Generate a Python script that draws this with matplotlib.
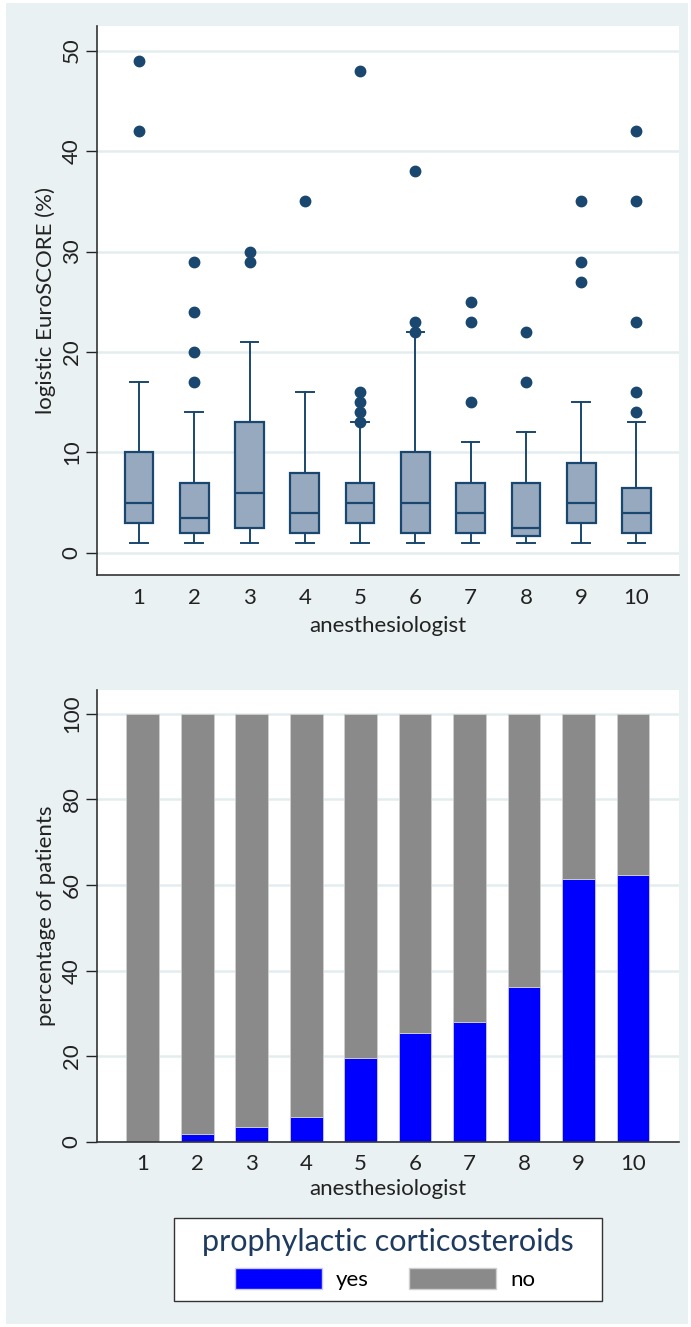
import matplotlib
matplotlib.use("Agg")
import matplotlib.pyplot as plt
from matplotlib.patches import Rectangle, Patch

plt.rcParams['font.family'] = ['Lato', 'DejaVu Sans']

# ---- data ----
anesthesiologists = [1, 2, 3, 4, 5, 6, 7, 8, 9, 10]

# logistic EuroSCORE box statistics per anesthesiologist
q1 = [3, 2, 2.5, 2, 3, 2, 2, 1.7, 3, 2]
median = [5, 3.5, 6, 4, 5, 5, 4, 2.5, 5, 4]
q3 = [10, 7, 13, 8, 7, 10, 7, 7, 9, 6.5]
whisker_low = [1, 1, 1, 1, 1, 1, 1, 1, 1, 1]
whisker_high = [17, 14, 21, 16, 13, 22, 11, 12, 15, 13]
outliers = [
    [42, 49],
    [17, 20, 24, 29],
    [29, 30],
    [35],
    [13, 14, 15, 16, 48],
    [22, 23, 38],
    [15, 23, 25],
    [17, 22],
    [27, 29, 35],
    [14, 16, 23, 35, 42],
]

# percentage of patients receiving prophylactic corticosteroids
pct_yes = [0, 1.8, 3.4, 5.8, 19.6, 25.4, 27.9, 36.2, 61.3, 62.3]
pct_no = [100 - v for v in pct_yes]

NAVY = '#1a476f'
BOX_FILL = '#97a9be'
GRID = '#e3edf0'
BG = '#eaf1f3'
FS = 16

W, H = 691, 1327
fig = plt.figure(figsize=(6.91, 13.27), dpi=100)
fig.patch.set_facecolor('white')
fig.patches.append(Rectangle((6 / W, 3 / H), 682 / W, 1321 / H,
                             transform=fig.transFigure, facecolor=BG,
                             edgecolor='none', zorder=-10))


def style_axes(ax):
    ax.set_facecolor('white')
    for s in ['top', 'right']:
        ax.spines[s].set_visible(False)
    for s in ['left', 'bottom']:
        ax.spines[s].set_color('#333333')
        ax.spines[s].set_linewidth(1.2)
    ax.tick_params(axis='x', length=0, labelsize=FS, pad=9, colors='#222222')
    ax.tick_params(axis='y', length=8, width=1.0, labelsize=FS, pad=3,
                   colors='#222222', labelrotation=90)
    ax.grid(axis='y', color=GRID, linewidth=1.8)
    ax.set_axisbelow(True)


# ---- top: box plot ----
ax1 = fig.add_axes([97 / W, 1 - 575 / H, 582 / W, 549 / H])
stats = []
for i in range(len(anesthesiologists)):
    stats.append(dict(med=median[i], q1=q1[i], q3=q3[i],
                      whislo=whisker_low[i], whishi=whisker_high[i],
                      fliers=outliers[i]))
ax1.bxp(stats, positions=anesthesiologists, widths=0.52, patch_artist=True,
        boxprops=dict(facecolor=BOX_FILL, edgecolor=NAVY, linewidth=1.6),
        medianprops=dict(color=NAVY, linewidth=1.6),
        whiskerprops=dict(color=NAVY, linewidth=1.4),
        capprops=dict(color=NAVY, linewidth=1.4),
        capwidths=0.32,
        flierprops=dict(marker='o', markerfacecolor=NAVY, markeredgecolor=NAVY,
                        markersize=7.5))
ax1.set_xlim(0.24, 10.77)
ax1.set_ylim(-2.19, 52.44)
ax1.set_yticks([0, 10, 20, 30, 40, 50])
style_axes(ax1)
for lbl in ax1.get_yticklabels():
    lbl.set_va('center')
ax1.set_xticks(anesthesiologists)
ax1.set_xticklabels([str(a) for a in anesthesiologists])
ax1.set_ylabel('logistic EuroSCORE (%)', fontsize=FS, labelpad=4, color='#222222')
ax1.set_xlabel('anesthesiologist', fontsize=FS, labelpad=6, color='#222222')

# ---- bottom: stacked bar ----
ax2 = fig.add_axes([97 / W, 1 - 1142 / H, 582 / W, 452 / H])
ax2.bar(anesthesiologists, pct_yes, width=0.6, color='#0000ff',
        edgecolor='#c8c8ff', linewidth=0.6, label='yes')
ax2.bar(anesthesiologists, pct_no, width=0.6, bottom=pct_yes, color='#8a8a8a',
        edgecolor='#cfcfcf', linewidth=0.6, label='no')
ax2.set_xlim(0.159, 10.845)
ax2.set_ylim(0, 105.5)
ax2.set_yticks([0, 20, 40, 60, 80, 100])
style_axes(ax2)
for lbl in ax2.get_yticklabels():
    lbl.set_va('center')
ax2.set_xticks(anesthesiologists)
ax2.set_xticklabels([str(a) for a in anesthesiologists])
ax2.set_ylabel('percentage of patients', fontsize=FS, labelpad=4, color='#222222')
ax2.set_xlabel('anesthesiologist', fontsize=FS, labelpad=3, color='#222222')

# legend box
fig.patches.append(Rectangle((174 / W, 1 - 1301 / H), 428 / W, 83 / H,
                             transform=fig.transFigure, facecolor='white',
                             edgecolor='#333333', linewidth=1.0, zorder=5))
fig.text(388 / W, 1 - 1242 / H, 'prophylactic corticosteroids', fontsize=22,
         color='#1f3a5f', ha='center', va='center', zorder=6)
handles = [Patch(facecolor='#0000ff', edgecolor='#c8c8ff', label='yes'),
           Patch(facecolor='#8a8a8a', edgecolor='#cfcfcf', label='no')]
leg = fig.legend(handles=handles, loc='center', ncol=2,
                 bbox_to_anchor=(385 / W, 1 - 1279 / H), frameon=False,
                 fontsize=FS, handlelength=3.9, handleheight=1.05,
                 handletextpad=0.65, columnspacing=1.8, borderpad=0)
leg.set_zorder(7)

fig.savefig('out.png', dpi=100, facecolor=fig.get_facecolor())
